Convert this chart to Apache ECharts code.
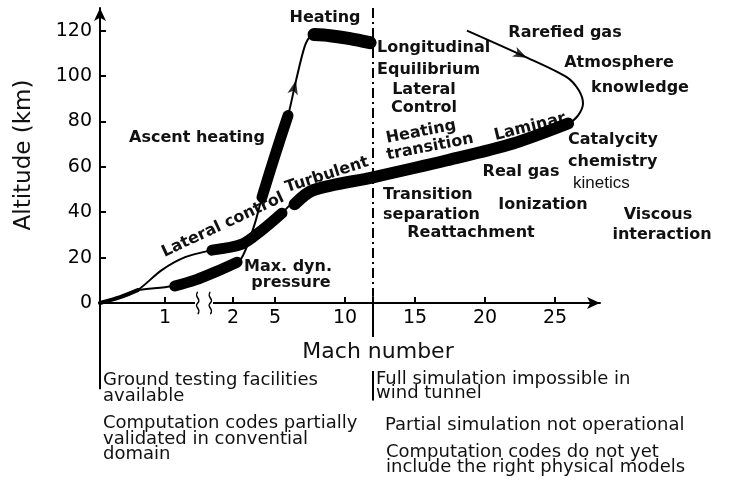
<!DOCTYPE html>
<html>
<head>
<meta charset="utf-8">
<script src="https://cdn.jsdelivr.net/npm/echarts@6/dist/echarts.min.js"></script>
<style>
  html, body { margin: 0; padding: 0; background: #fff; }
  #chart { width: 732px; height: 481px; }
</style>
</head>
<body>
<div id="chart"></div>
<script>
// tick labels
const machTicks = [1, 2, 5, 10, 15, 20, 25];
const altTicks = [0, 20, 40, 60, 80, 100, 120];

// ascent trajectory (Mach, km)
const ascentMach = [0, 0.31, 0.58, 1.11, 1.61, 1.85, 2.36, 2.86, 3.57, 4.07, 5.0, 5.93, 6.5, 7.14, 7.57, 8.21, 9.64, 11.93];
const ascentAlt = [0, 2.6, 5.7, 7.5, 12.7, 15.4, 18.0, 22.9, 35.2, 46.6, 65.1, 82.6, 98.0, 113.4, 117.8, 119.1, 117.4, 114.7];

// reentry trajectory
const reentryMach = [18.71, 23.0, 25.86, 26.71, 27.0, 26.64, 25.93, 22.0, 17.29, 12.0, 7.71, 6.29, 5.5, 4.07, 2.64, 1.71, 1.31, 0.95, 0.58, 0.31, 0];
const reentryAlt = [120.0, 108.1, 99.4, 93.6, 87.9, 82.6, 79.1, 70.3, 62.9, 55.4, 49.7, 44.4, 39.6, 32.1, 25.9, 23.3, 20.2, 14.5, 5.7, 2.6, 0];

// heavy (critical) stretches
const maxDynMach = [1.15, 1.46, 1.75, 2.29];
const maxDynAlt = [7.5, 10.1, 13.6, 18.0];
const ascentHeatMach = [4.07, 5.0, 5.93];
const ascentHeatAlt = [46.6, 65.1, 82.6];
const heatingMach = [7.79, 8.93, 10.36, 11.79];
const heatingAlt = [118.3, 117.8, 116.5, 114.7];
const lateralMach = [1.71, 2.64, 4.07, 5.5];
const lateralAlt = [23.3, 25.9, 32.1, 39.6];
const bandMach = [6.4, 7.71, 12.0, 17.29, 22.0, 25.93];
const bandAlt = [43.5, 49.7, 55.4, 62.9, 70.3, 79.1];
const launchMach = [0, 0.31, 0.58];
const launchAlt = [0, 2.6, 5.7];

// flight direction arrows
const arrowMach = [6.5, 23.0];
const arrowAlt = [98.0, 108.1];

const limitMach = 12;   // dash-dot boundary
const breakMach = 1.6;  // axis break

// broken Mach scale: stretched below the break, compressed above
function mx(m) {
  if (m <= 1.6) return 65 * m;
  if (m < 2) return 104 + (m - 1.6) * 72.5;
  return 105 + 14 * m;
}
const pts = (ms, as) => ms.map((m, i) => [mx(m), as[i]]);

const FONT = '"DejaVu Sans", sans-serif';
const lbl = (text, x, y, opt = {}) => ({
  type: 'text',
  x, y,
  rotation: (opt.rot || 0) * Math.PI / 180,
  silent: true,
  style: {
    text,
    font: opt.font || 'bold 16px ' + FONT,
    fill: '#111',
    textAlign: opt.align || 'center',
    textVerticalAlign: 'middle',
    align: opt.align || 'center',
    verticalAlign: 'middle'
  }
});
const foot = (text, x, y) => lbl(text, x, y, { align: 'left', font: '18px ' + FONT });

const thin = (data, extra) => Object.assign({
  type: 'line', data, showSymbol: false, smooth: 0.3, silent: true,
  lineStyle: { color: '#000', width: 2 }
}, extra || {});
const heavy = (data, w) => ({
  type: 'line', data, showSymbol: false, smooth: 0.3, silent: true,
  lineStyle: { color: '#000', width: w, cap: 'round', join: 'round' }
});

const chart = echarts.init(document.getElementById('chart'));
chart.setOption({
  animation: false,
  backgroundColor: '#fff',
  grid: { left: 100, right: 132, top: 8, bottom: 178 },
  xAxis: {
    type: 'value',
    min: 0,
    max: 500,
    splitLine: { show: false },
    axisLine: {
      symbol: ['none', 'arrow'],
      symbolSize: [9, 13],
      lineStyle: { color: '#000', width: 2 }
    },
    axisTick: { inside: true, length: 6, customValues: machTicks.map(mx), lineStyle: { color: '#000', width: 2 } },
    axisLabel: {
      customValues: machTicks.map(mx),
      color: '#000',
      fontSize: 19,
      fontFamily: FONT,
      margin: 6,
      formatter: v => {
        const i = machTicks.findIndex(m => Math.abs(mx(m) - v) < 0.01);
        return i >= 0 ? String(machTicks[i]) : '';
      }
    }
  },
  yAxis: {
    type: 'value',
    min: 0,
    max: 130,
    splitLine: { show: false },
    axisLine: {
      symbol: ['none', 'arrow'],
      symbolSize: [9, 13],
      lineStyle: { color: '#000', width: 2 }
    },
    axisTick: { inside: true, length: 6, customValues: altTicks, lineStyle: { color: '#000', width: 2 } },
    axisLabel: { customValues: altTicks, color: '#000', fontSize: 19, fontFamily: FONT, margin: 8 }
  },
  series: [
    thin(pts(ascentMach, ascentAlt), {
      markLine: {
        silent: true,
        symbol: ['none', 'none'],
        label: { show: false },
        lineStyle: { color: '#000', width: 2, type: [10, 4, 2, 4] },
        data: [
          [{ coord: [mx(limitMach), 130] }, { coord: [mx(limitMach), 3] }]
        ]
      },
      markPoint: {
        silent: true,
        label: { show: false },
        data: [
          { coord: [mx(breakMach), 0], symbol: 'rect', symbolSize: [18, 6], itemStyle: { color: '#fff' } },
          {
            coord: [mx(breakMach), 0],
            symbol: 'path://M3,0 C0,5 6,7 3,11 C0,15 6,17 3,22 M12,0 C9,5 15,7 12,11 C9,15 15,17 12,22',
            symbolSize: [15, 22],
            itemStyle: { color: 'transparent', borderColor: '#000', borderWidth: 1.6 }
          }
        ]
      }
    }),
    thin(pts(reentryMach, reentryAlt)),
    heavy(pts(launchMach, launchAlt), 4),
    heavy(pts(maxDynMach, maxDynAlt), 11),
    heavy(pts(ascentHeatMach, ascentHeatAlt), 11),
    heavy(pts(heatingMach, heatingAlt), 13),
    heavy(pts(lateralMach, lateralAlt), 11),
    heavy(pts(bandMach, bandAlt), 12),
    {
      type: 'scatter',
      silent: true,
      symbol: 'arrow',
      symbolSize: [8, 14],
      itemStyle: { color: '#000' },
      data: pts(arrowMach, arrowAlt).map((p, i) => ({ value: p, symbolRotate: [-14, -115][i] }))
    }
  ]
});

// brackets below the Mach axis, placed through the chart's own scales
const px = (m, a) => chart.convertToPixel({ gridIndex: 0 }, [mx(m), a]);
const vline = (m, a0, a1) => {
  const p0 = px(m, a0), p1 = px(m, a1);
  return {
    type: 'line', silent: true,
    shape: { x1: p0[0], y1: p0[1], x2: p1[0], y2: p1[1] },
    style: { stroke: '#000', lineWidth: 2 }
  };
};

chart.setOption({
  graphic: [
    vline(0, 0, -38),
    vline(limitMach, 3, -15),
    vline(limitMach, -30, -43),
    lbl('Altitude (km)', 24, 155, { rot: 90, font: '23px ' + FONT }),
    lbl('Mach number', 378, 352, { font: '22px ' + FONT }),
    lbl('Heating', 325, 18),
    lbl('Ascent heating', 197, 138),
    lbl('Longitudinal', 377, 48, { align: 'left' }),
    lbl('Equilibrium', 377, 70, { align: 'left' }),
    lbl('Lateral', 424, 90),
    lbl('Control', 424, 108),
    lbl('Heating', 421, 132, { rot: 11 }),
    lbl('transition', 430, 147, { rot: 11 }),
    lbl('Turbulent', 327, 175, { rot: 18 }),
    lbl('Lateral control', 223, 225, { rot: 25 }),
    lbl('Laminar', 530, 127, { rot: 14 }),
    lbl('Rarefied gas', 565, 33),
    lbl('Atmosphere', 619, 63),
    lbl('knowledge', 640, 88),
    lbl('Catalycity', 568, 140, { align: 'left' }),
    lbl('chemistry', 568, 162, { align: 'left' }),
    lbl('kinetics', 573, 183, { align: 'left', font: '17px "Liberation Sans", sans-serif' }),
    lbl('Real gas', 521, 172),
    lbl('Transition', 383, 195, { align: 'left' }),
    lbl('separation', 383, 215, { align: 'left' }),
    lbl('Reattachment', 471, 233),
    lbl('Ionization', 543, 205),
    lbl('Viscous', 658, 215),
    lbl('interaction', 662, 235),
    lbl('Max. dyn.', 288, 267),
    lbl('pressure', 291, 283),
    foot('Ground testing facilities', 103, 380),
    foot('available', 103, 396),
    foot('Computation codes partially', 103, 423),
    foot('validated in convential', 103, 439),
    foot('domain', 103, 454),
    foot('Full simulation impossible in', 376, 379),
    foot('wind tunnel', 376, 393),
    foot('Partial simulation not operational', 385, 425),
    foot('Computation codes do not yet', 386, 452),
    foot('include the right physical models', 386, 467)
  ]
});
</script>
</body>
</html>
